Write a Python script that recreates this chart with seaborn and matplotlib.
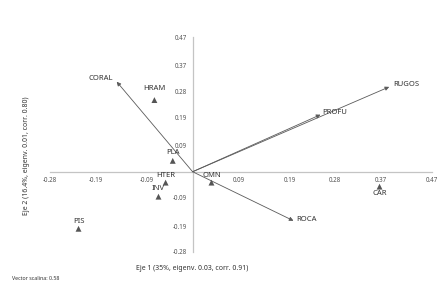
import matplotlib
matplotlib.use("Agg")
import matplotlib.pyplot as plt
import seaborn as sns
import pandas as pd

sns.set_style("white")
plt.rcParams["font.family"] = ["Noto Sans", "DejaVu Sans"]

# species / groups (triangles)
groups = ["HRAM", "PLA", "HTER", "INV", "OMN", "PIS", "CAR"]
group_x = [-0.075, -0.039, -0.053, -0.067, 0.037, -0.224, 0.367]
group_y = [0.250, 0.038, -0.038, -0.087, -0.038, -0.199, -0.052]

# environmental vectors
vectors = ["CORAL", "RUGOS", "PROFU", "ROCA"]
vec_x = [-0.149, 0.386, 0.251, 0.198]
vec_y = [0.314, 0.296, 0.199, -0.171]

ticks = [-0.28, -0.19, -0.09, 0.09, 0.19, 0.28, 0.37, 0.47]
tick_labels = ["-0.28", "-0.19", "-0.09", "0.09", "0.19", "0.28", "0.37", "0.47"]

df = pd.DataFrame({"grupo": groups, "x": group_x, "y": group_y})

fig = plt.figure(figsize=(4.45, 2.89), dpi=100)
ax = fig.add_axes([50 / 445, 1 - 252 / 289, 382 / 445, 215 / 289])
ax.set_xlim(-0.28, 0.47)
ax.set_ylim(-0.28, 0.47)

grey_axis = "#c4c4c4"
for side in ["top", "right"]:
    ax.spines[side].set_visible(False)
for side in ["left", "bottom"]:
    ax.spines[side].set_position(("data", 0))
    ax.spines[side].set_color(grey_axis)
    ax.spines[side].set_linewidth(0.9)
    ax.spines[side].set_bounds(-0.28, 0.47)

ax.set_xticks(ticks)
ax.set_xticklabels(tick_labels)
ax.set_yticks(ticks)
ax.set_yticklabels(tick_labels)
ax.tick_params(axis="both", direction="inout", length=4, width=0.7,
               color=grey_axis, labelsize=4.5, labelcolor="#555555", pad=2)

# vectors
for name, vx, vy in zip(vectors, vec_x, vec_y):
    ax.annotate("", xy=(vx, vy), xytext=(0, 0),
                arrowprops=dict(arrowstyle="-|>", mutation_scale=6, lw=0.6,
                                color="#5a5a5a", shrinkA=0, shrinkB=0))

vec_offsets = {"CORAL": (-3, 2, "right"), "RUGOS": (3, 1.5, "left"),
               "PROFU": (1, 1.5, "left"), "ROCA": (2, 1, "left")}
for name, vx, vy in zip(vectors, vec_x, vec_y):
    dx, dy, ha = vec_offsets[name]
    ax.annotate(name, xy=(vx, vy), xytext=(dx, dy), textcoords="offset points",
                ha=ha, va="center", fontsize=5.5, color="#333333")

# group triangles
sns.scatterplot(data=df, x="x", y="y", marker="^", s=18, color="#555555",
                edgecolor="none", ax=ax, legend=False, zorder=3)

grp_offsets = {"HRAM": 8.5, "PLA": 5.8, "HTER": 5, "INV": 5.8, "OMN": 5,
               "PIS": 5, "CAR": -5}
for name, gx, gy in zip(groups, group_x, group_y):
    ax.annotate(name, xy=(gx, gy), xytext=(0, grp_offsets[name]),
                textcoords="offset points", ha="center", va="center",
                fontsize=5.5, color="#333333")

ax.set_xlabel("")
ax.set_ylabel("")
fig.text(192 / 445, 1 - 268 / 289, "Eje 1 (35%, eigenv. 0.03, corr. 0.91)",
         ha="center", va="center", fontsize=5, color="#333333")
fig.text(27 / 445, 1 - 156 / 289, "Eje 2 (16.4%, eigenv. 0.01, corr. 0.80)",
         ha="center", va="center", rotation=90, fontsize=5, color="#333333")
fig.text(12 / 445, 1 - 279 / 289, "Vector scalina: 0.58",
         ha="left", va="center", fontsize=3.8, color="#333333")

fig.savefig("out.png", dpi=100)
